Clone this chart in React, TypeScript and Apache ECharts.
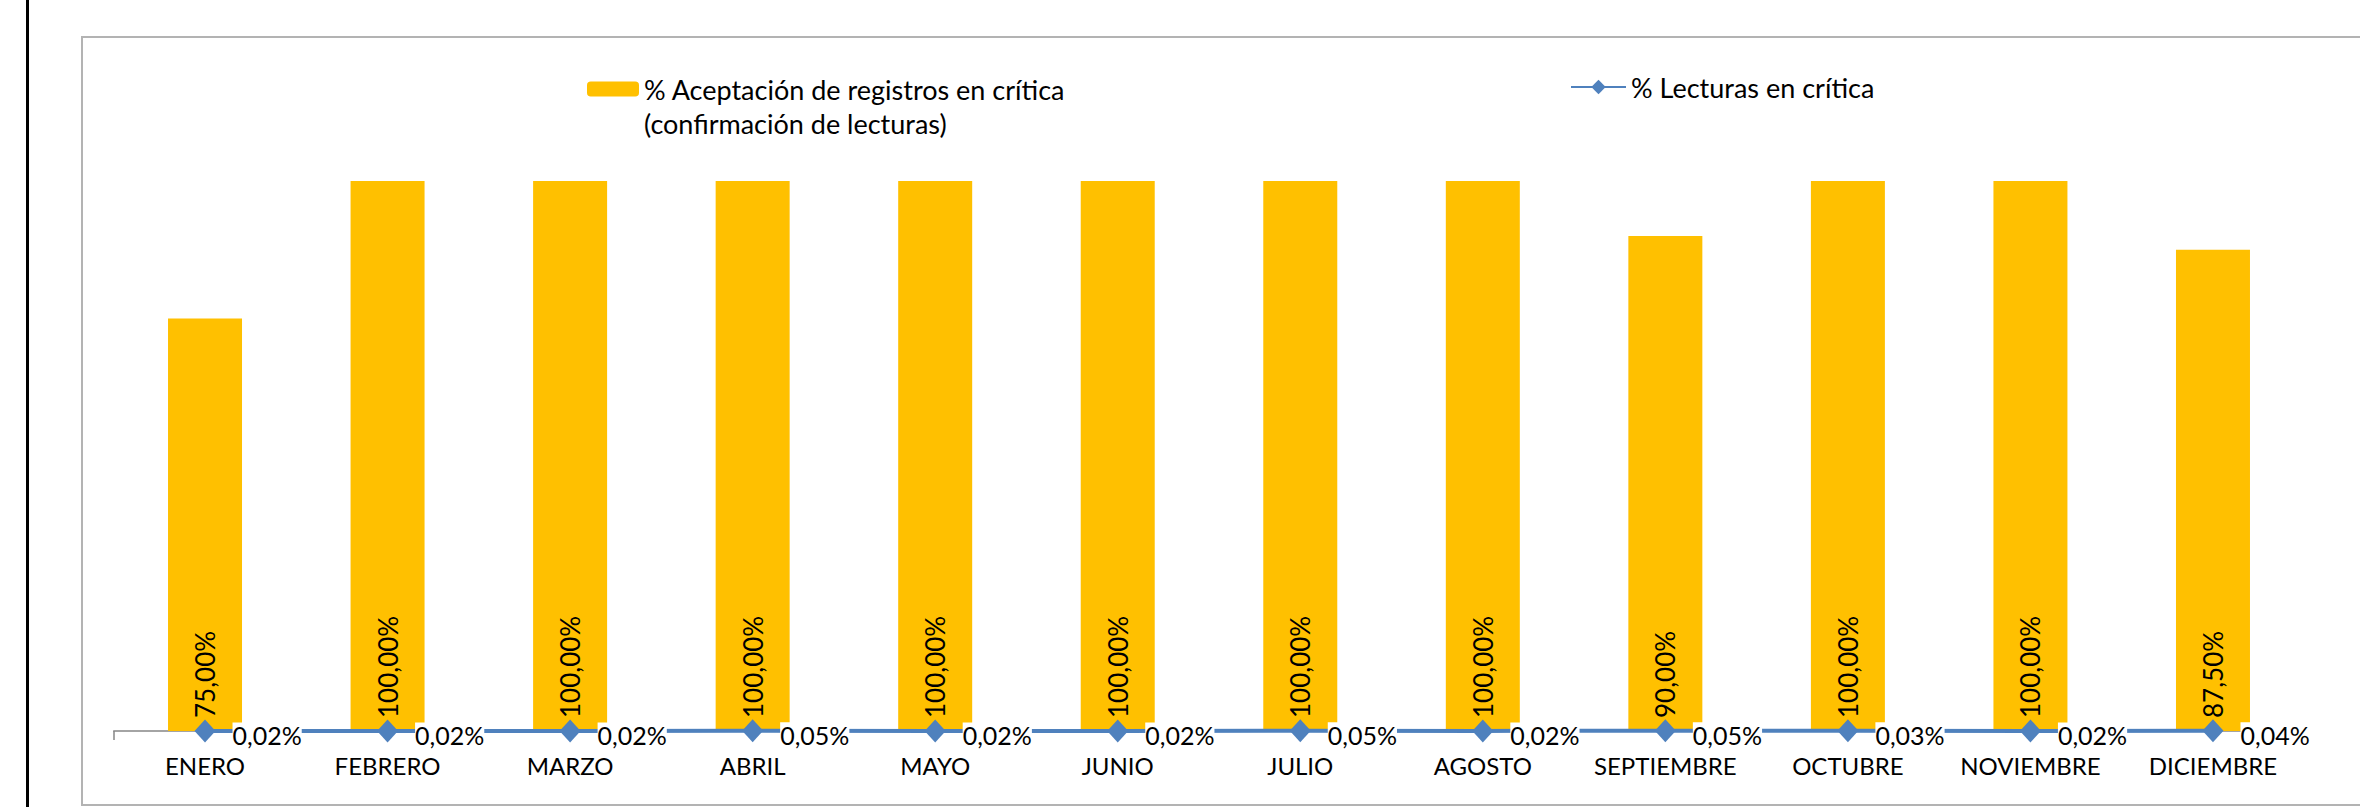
import React, { useEffect, useRef } from "react";
import * as echarts from "echarts";

const categories = [
  "ENERO", "FEBRERO", "MARZO", "ABRIL", "MAYO", "JUNIO",
  "JULIO", "AGOSTO", "SEPTIEMBRE", "OCTUBRE", "NOVIEMBRE", "DICIEMBRE",
];
const aceptacion = [0.75, 1, 1, 1, 1, 1, 1, 1, 0.9, 1, 1, 0.875];
const lecturas = [0.0002, 0.0002, 0.0002, 0.0005, 0.0002, 0.0002, 0.0005, 0.0002, 0.0005, 0.0003, 0.0002, 0.0004];

const barName = "% Aceptación de registros en crítica (confirmación de lecturas)";
const lineName = "% Lecturas en crítica";

const FONT = "Lato, 'Open Sans', sans-serif";
const pct = (v: number) => (v * 100).toFixed(2).replace(".", ",") + "%";

export default function App() {
  const ref = useRef<HTMLDivElement>(null);
  useEffect(() => {
    document.body.style.margin = "0";
    const chart = echarts.init(ref.current!, null, { renderer: "svg" });
    chart.setOption({
      animation: false,
      backgroundColor: "#fff",
      textStyle: { fontFamily: FONT },
      graphic: [
        {
          type: "line",
          shape: { x1: 27.5, y1: 0, x2: 27.5, y2: 807 },
          style: { stroke: "#000", lineWidth: 3 },
          z: -1,
        },
        {
          type: "rect",
          shape: { x: 82, y: 37, width: 2400, height: 768 },
          style: { fill: "none", stroke: "#B3B3B3", lineWidth: 2 },
          z: -1,
        },
      ],
      legend: [
        {
          data: [barName],
          left: 587,
          top: 38,
          padding: 0,
          itemWidth: 52,
          itemHeight: 15,
          formatter: (n: string) => "\u00a0\n" + n.replace(" (", "\n("),
          textStyle: {
            fontFamily: FONT,
            fontSize: 27,
            color: "#000",
            lineHeight: 34,
          },
        },
        {
          data: [lineName],
          left: 1570,
          top: 70,
          padding: 0,
          itemWidth: 55,
          itemHeight: 18,
          textStyle: { fontFamily: FONT, fontSize: 27, color: "#000", lineHeight: 34 },
        },
      ],
      grid: { left: 113.75, right: 55.75, top: 181, bottom: 76, containLabel: false },
      xAxis: {
        type: "category",
        data: categories,
        boundaryGap: true,
        axisLine: { lineStyle: { color: "#868686", width: 1.5 } },
        axisTick: {
          show: true,
          interval: (i: number) => i === 0,
          length: 9,
          lineStyle: { color: "#868686", width: 1.5 },
        },
        axisLabel: { fontFamily: FONT, fontSize: 24, color: "#000", margin: 22, interval: 0 },
      },
      yAxis: {
        type: "value",
        min: 0,
        max: 1,
        show: false,
        splitLine: { show: false },
      },
      series: [
        {
          name: barName,
          type: "bar",
          data: aceptacion,
          barWidth: 74,
          itemStyle: { color: "#FFC000" },
          label: {
            show: true,
            position: "insideBottom",
            distance: 13,
            rotate: 90,
            align: "left",
            verticalAlign: "middle",
            fontFamily: FONT,
            fontSize: 26,
            color: "#000",
            formatter: (p: any) => pct(p.value),
          },
        },
        {
          name: lineName,
          type: "line",
          data: lecturas,
          symbol: "diamond",
          symbolSize: [21, 23],
          lineStyle: { color: "#4F81BD", width: 4 },
          itemStyle: { color: "#4F81BD" },
          label: {
            show: true,
            position: "right",
            distance: 17,
            offset: [0, 4],
            fontFamily: FONT,
            fontSize: 25,
            color: "#000",
            backgroundColor: "#fff",
            formatter: (p: any) => pct(p.value),
          },
          z: 3,
        },
      ],
    });
    return () => chart.dispose();
  }, []);
  return <div ref={ref} style={{ width: 2360, height: 807 }} />;
}
